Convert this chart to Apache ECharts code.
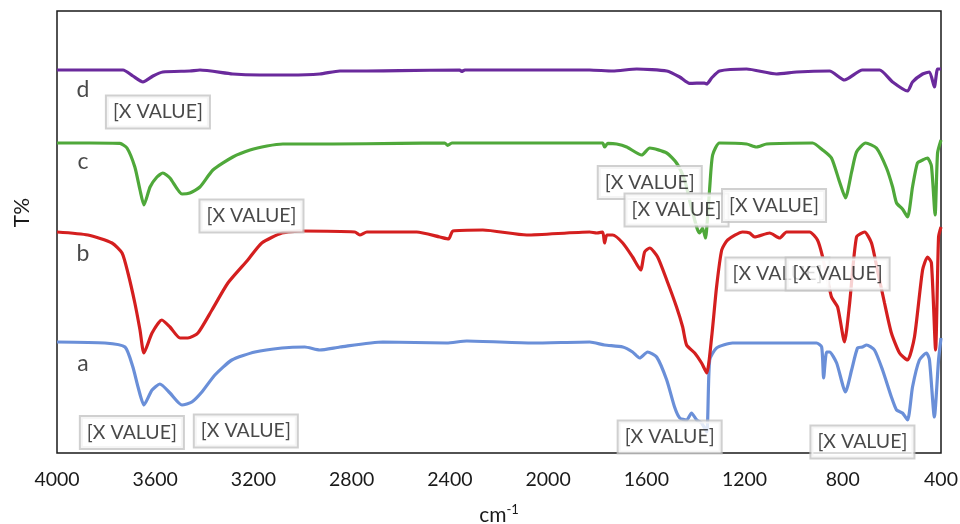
<!DOCTYPE html>
<html>
<head>
<meta charset="utf-8">
<script src="https://cdn.jsdelivr.net/npm/echarts@6/dist/echarts.min.js"></script>
<style>
  html, body { margin: 0; padding: 0; background: #fff; }
  #chart { width: 960px; height: 524px; }
</style>
</head>
<body>
<div id="chart"></div>
<script>
// FTIR spectra, wavenumber (cm-1) vs transmittance (offset traces)
const xTicks = [4000, 3600, 3200, 2800, 2400, 2000, 1600, 1200, 800, 400];

const spectrumA = [
  [4000,27.75],[3805,27.5],[3723,26.5],[3691,21.5],[3670,16.5],[3646,12],[3613,15.75],[3581,17.25],
  [3540,15],[3491,12],[3451,12.75],[3410,15.25],[3357,19.5],[3288,23.25],[3194,25.25],[3084,26.25],
  [2991,26.5],[2930,25.75],[2848,26.5],[2673,27.75],[2413,27.5],[2331,28],[2063,27.5],[1831,27.75],
  [1770,27],[1696,26.5],[1656,25.25],[1627,23.75],[1595,25.25],[1558,24],[1517,18.25],[1485,11.5],
  [1464,8.75],[1436,8.25],[1416,10],[1395,8.25],[1375,7.5],[1354,5.25],[1342,23.25],[1314,26.25],
  [1249,27.5],[907,27.5],[886,26.5],[878,18.75],[866,25.25],[854,25.25],[825,22.5],[789,15.25],
  [764,20.75],[740,26.25],[720,26.5],[703,27],[671,25.75],[638,20.75],[602,14],[581,10.75],
  [557,10],[536,8.25],[516,16.5],[488,23.25],[459,25],[447,23.25],[427,9],[410,23.25],[400,28.75]
];

const spectrumB = [
  [4000,55.25],[3874,54.5],[3776,52.5],[3735,50],[3711,45],[3683,37.5],[3662,30.75],[3646,25],
  [3613,30],[3573,33.25],[3540,31.5],[3499,28.75],[3467,28.75],[3426,30],[3369,35.75],[3304,42.5],
  [3223,48.25],[3166,52.5],[3084,55],[3003,55.5],[2787,55.25],[2767,54.5],[2738,55.25],[2535,55.25],
  [2441,54],[2405,53.5],[2388,55.5],[2266,55.75],[2087,54.5],[1831,55.25],[1802,55],[1778,55.25],
  [1770,52.5],[1761,54.5],[1737,54.5],[1696,52.5],[1656,49],[1623,45.75],[1607,50.25],[1586,51.25],
  [1554,49],[1517,43.25],[1477,36.5],[1452,31.5],[1436,27],[1403,25],[1375,22.5],[1354,20],
  [1334,29],[1314,41.5],[1293,50.75],[1269,53.25],[1208,55.25],[1179,55],[1159,54],[1098,55],
  [1057,53.75],[1029,55.25],[935,55.25],[903,53.25],[882,49],[846,39],[821,36.5],[793,27.75],
  [772,37.5],[744,54],[711,55.25],[683,52.5],[659,45.75],[630,37.5],[602,30],[569,25],[536,23.25],
  [508,29],[475,45.75],[455,49],[439,47.5],[422,25.75],[410,54],[400,56.5]
];

const spectrumC = [
  [4000,77.5],[3866,77.5],[3744,77.4],[3715,76.25],[3683,71.5],[3662,65.75],[3646,62],[3621,66.5],
  [3593,69],[3569,70],[3540,68.75],[3491,64.75],[3459,65],[3418,66.5],[3365,70.75],[3284,74],
  [3214,75.75],[3145,76.75],[3080,77.25],[2877,77.25],[2604,77.4],[2421,77.5],[2409,76.9],[2392,77.5],
  [2116,77.5],[1778,77.5],[1770,76.5],[1757,77.4],[1721,77.25],[1680,76.5],[1619,74.5],[1586,76.25],
  [1517,75],[1477,72.5],[1444,68.25],[1424,63.25],[1403,58.25],[1391,55.75],[1383,55],[1371,56.25],
  [1359,53.75],[1350,59.5],[1342,66.25],[1330,74.5],[1302,77.5],[1192,77.25],[1151,76.5],[1110,77.25],
  [923,77.5],[882,75.75],[846,73.75],[813,67.75],[789,63.75],[764,70.25],[744,75.25],[707,77.5],
  [663,76.25],[622,71.25],[597,66.5],[581,62.5],[557,61],[536,59],[516,66.5],[496,72.5],[475,73.25],
  [455,73.75],[439,71.75],[424,59.5],[414,75],[400,78.25]
];

const spectrumD = [
  [4000,95.75],[3825,95.75],[3731,95.75],[3691,94.25],[3650,92.75],[3609,94.25],[3569,95.25],[3459,95.5],
  [3418,95.75],[3284,94.75],[3174,94.5],[3052,94.5],[2930,94.75],[2848,95.5],[2738,95.5],[2604,95.6],
  [2360,95.75],[2352,95.4],[2339,95.75],[2116,95.75],[1831,95.75],[1737,95.5],[1639,96],[1517,95.5],
  [1464,94],[1424,92.4],[1363,92.5],[1354,92.25],[1334,93.75],[1302,95.5],[1192,96],[1070,94.75],
  [988,95.25],[854,95.5],[793,93.25],[720,95.75],[650,95.75],[597,92.75],[536,90.5],[516,92.75],
  [475,94.75],[447,95.25],[427,91.5],[414,96],[400,96]
];

// trace letters, placed at [wavenumber, T]
const traceNames = ['a', 'b', 'c', 'd'];
const traceNamePos = [[3894, 22.25], [3894, 49.75], [3894, 72.75], [3894, 90.75]];

// peak annotations, placed at [wavenumber, T]
const peakText = '[X VALUE]';
const peakLabelPos = [
  [3589, 85.25], [3208, 59.25], [3695, 5.1], [3231, 5.5],
  [1586, 67.6], [1477, 60.75], [1080, 61.9],
  [1066, 44.75], [821, 44.75], [1505, 4], [720, 2.75]
];

const colors = { a: '#6a8fd8', b: '#d41f1f', c: '#4fa83a', d: '#6a2a9c' };
const FONT = 'Lato, "Open Sans", sans-serif';

function trace(name, data, color) {
  return {
    name: name, type: 'line', data: data, showSymbol: false, smooth: 0.2,
    lineStyle: { color: color, width: 3.2 }, z: 2, animation: false
  };
}

const chart = echarts.init(document.getElementById('chart'));
chart.setOption({
  animation: false,
  grid: { left: 57, right: 19, top: 11, bottom: 71, outerBoundsMode: 'none', containLabel: false,
    show: true, borderColor: '#1a1a1a', borderWidth: 1.5, backgroundColor: 'transparent' },
  xAxis: {
    type: 'value', min: 400, max: 4000, interval: 400, inverse: true,
    axisLine: { show: false }, axisTick: { show: false }, splitLine: { show: false },
    axisLabel: { fontFamily: FONT, fontSize: 19.5, color: '#1a1a1a', margin: 17,
      customValues: xTicks, formatter: v => String(v) },
    name: '{b|cm}{s|-1}', nameLocation: 'middle', nameGap: 50,
    nameTextStyle: { rich: {
      b: { fontFamily: FONT, fontSize: 21, color: '#1a1a1a' },
      s: { fontFamily: FONT, fontSize: 13, color: '#1a1a1a', verticalAlign: 'bottom', padding: [0, 0, 11, 0] }
    } }
  },
  yAxis: {
    type: 'value', min: 0, max: 110.5,
    axisLine: { show: false }, axisTick: { show: false }, axisLabel: { show: false }, splitLine: { show: false }
  },
  graphic: [{
    type: 'text', left: 12, top: 198, rotation: Math.PI / 2,
    style: { text: 'T%', font: '21px ' + FONT, fill: '#1a1a1a' }
  }],
  series: [
    trace('a', spectrumA, colors.a),
    trace('b', spectrumB, colors.b),
    trace('c', spectrumC, colors.c),
    trace('d', spectrumD, colors.d),
    {
      name: 'trace names', type: 'scatter', symbolSize: 0, z: 5, silent: true,
      data: traceNamePos.map((p, i) => ({ value: p, name: traceNames[i] })),
      label: { show: true, position: 'inside', formatter: p => p.name,
        fontFamily: FONT, fontSize: 23, color: '#1a1a1a' }
    },
    {
      name: 'peaks', type: 'scatter', symbolSize: 0, z: 10, silent: true, clip: false,
      data: peakLabelPos,
      labelLayout: { hideOverlap: false },
      label: { show: true, position: 'inside', formatter: peakText,
        fontFamily: FONT, fontSize: 19.5, color: '#1a1a1a', backgroundColor: '#fff',
        borderColor: '#c4c4c4', borderWidth: 2, padding: [6, 6, 5, 6], lineHeight: 20 }
    }
  ]
});
</script>
</body>
</html>
